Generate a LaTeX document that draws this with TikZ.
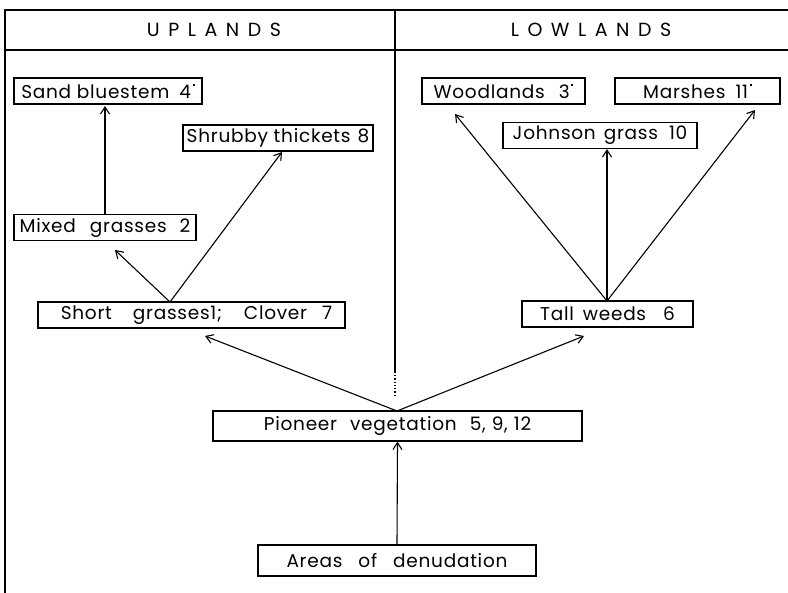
\documentclass[tikz,border=0pt]{standalone}
\usepackage{fontspec}
\setmainfont{Poppins}
\newfontfamily\spacedfont[LetterSpace=45]{Poppins}
\newfontfamily\boxfont[LetterSpace=4]{Poppins}
\usetikzlibrary{arrows.meta}
\newcommand{\rdot}{\kern1.5pt\raisebox{1.2ex}{\rule{2.2pt}{2.2pt}}}
\newcommand{\gap}[1]{\hspace{#1pt}}
\tikzset{
  box/.style={draw, line width=1.2pt, inner sep=0pt, minimum height=26pt, font=\boxfont\fontsize{18.5}{18.5}\selectfont, anchor=center},
  arr/.style={line width=1.1pt, -{Straight Barb[length=7pt,width=9pt,line width=1.1pt]}},
  frame/.style={line width=1.6pt},
  head/.style={font=\spacedfont\fontsize{19}{19}\selectfont}
}
\begin{document}
\begin{tikzpicture}[x=1pt,y=-1pt]
\useasboundingbox (0,0) rectangle (788,593);
% frame
\draw[frame] (5,593) -- (5,10) -- (788,10);
\draw[frame] (5,50) -- (788,50);
\draw[frame] (395,10) -- (395,373);
\draw[line width=1.3pt, dotted] (395,375) -- (395,398);
\node[head] (up) at (214,30) {UPLANDS};
\node[head] (low) at (591,30) {LOWLANDS};
% boxes
\node[box, minimum width=188pt] (sb) at (108,91) {Sand bluestem\gap{10}4\rdot};
\node[box, minimum width=190pt] (st) at (278,138) {Shrubby thickets\gap{7}8};
\node[box, minimum width=182pt] (mg) at (105,227.5) {Mixed\gap{14}grasses\gap{13}2};
\node[box, minimum width=307pt] (sg) at (191.5,315) {\hspace{10pt}Short\gap{21}grasses1;\gap{22}Clover\gap{15}7};
\node[box, minimum width=163pt] (wl) at (503.5,91) {Woodlands\gap{14}3\rdot};
\node[box, minimum width=165pt] (ma) at (697.5,91) {Marshes\gap{10}11\rdot};
\node[box, minimum width=194pt] (jg) at (600,135.5) {Johnson\gap{8}grass\gap{11}10};
\node[box, minimum width=171pt] (tw) at (607.5,314) {Tall\gap{9}weeds\gap{17}6};
\node[box, minimum width=369pt, minimum height=30pt] (pv) at (397.5,426) {Pioneer\gap{13}vegetation\gap{13}5,\gap{6}9,\gap{6}12};
\node[box, minimum width=278pt, minimum height=31pt] (ad) at (397,560.5) {Areas\gap{16}of\gap{16}denudation};
% coordinates
\coordinate (sgtop) at (170,302);
\coordinate (twtop) at (607,301);
\coordinate (pvtop) at (397,411);
% arrows
\draw[arr] (sgtop) -- (115,250);
\draw[arr] (sgtop) -- (282,152);
\draw[arr] (mg.north -| 105,0) -- (105,106);
\draw[arr] (pvtop) -- (205,336);
\draw[arr] (pvtop) -- (584,336);
\draw[arr] (ad.north) -- (pv.south);
\draw[arr] (twtop) -- (455,114);
\draw[arr] (twtop) -- (jg.south -| twtop);
\draw[arr] (twtop) -- (755,110);
\end{tikzpicture}
\end{document}
